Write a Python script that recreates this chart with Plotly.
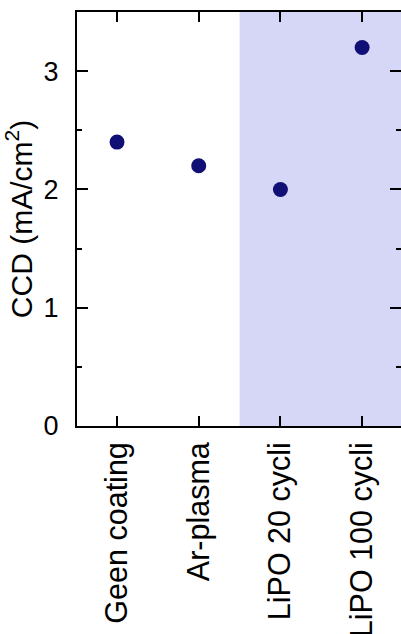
import plotly.graph_objects as go

categories = ["Geen coating", "Ar-plasma", "LiPO 20 cycli", "LiPO 100 cycli"]
ccd_values = [2.4, 2.2, 2.0, 3.2]
y_tick_vals = [0, 1, 2, 3]
y_tick_text = ["0", "1", "2", "3"]
shaded_from = 1.5  # between "Ar-plasma" and "LiPO 20 cycli"

FONT = "Liberation Sans, Arial, sans-serif"
x_idx = list(range(len(categories)))

fig = go.Figure()
fig.add_trace(go.Scatter(
    x=x_idx, y=ccd_values, mode="markers",
    marker=dict(size=15, color="#0f0f76"),
    showlegend=False, hoverinfo="y",
))
fig.add_trace(go.Scatter(
    x=x_idx, y=ccd_values, mode="markers", yaxis="y2",
    marker=dict(size=1, opacity=0), showlegend=False, hoverinfo="skip",
))

fig.add_shape(type="rect", xref="x", yref="y domain",
              x0=shaded_from, x1=10, y0=0, y1=1,
              fillcolor="#d6d6f7", line=dict(width=0), layer="below")

yr = [0, 3.5]
fig.update_layout(
    width=401, height=634,
    margin=dict(l=77, r=0, t=12, b=208),
    paper_bgcolor="white", plot_bgcolor="white",
    font=dict(family=FONT, color="black"),
    xaxis=dict(
        range=[-0.49, 3.476], tickmode="array", tickvals=x_idx, ticktext=categories,
        tickangle=-90, ticks="inside", ticklen=10, tickwidth=2, tickcolor="black",
        showline=True, linewidth=2, linecolor="black", mirror="ticks",
        showgrid=False, zeroline=False, tickfont=dict(size=30.5, family=FONT),
        ticklabelstandoff=2, automargin=False,
    ),
    yaxis=dict(
        range=yr, tickmode="array", tickvals=y_tick_vals, ticktext=y_tick_text,
        ticks="inside", ticklen=11, tickwidth=2, tickcolor="black",
        minor=dict(dtick=0.5, tick0=0, ticks="inside", ticklen=5, tickwidth=2, tickcolor="black", showgrid=False),
        showline=True, linewidth=2, linecolor="black", mirror=False,
        showgrid=False, zeroline=False, tickfont=dict(size=27, family=FONT),
        ticklabelstandoff=11, automargin=False,
        title=dict(text="CCD (mA/cm<sup>2</sup>)", font=dict(size=30, family=FONT), standoff=8),
    ),
    yaxis2=dict(
        range=yr, overlaying="y", side="right", tickmode="array", tickvals=y_tick_vals,
        ticks="inside", ticklen=11, tickwidth=2, tickcolor="black",
        minor=dict(dtick=0.5, tick0=0, ticks="inside", ticklen=5, tickwidth=2, tickcolor="black", showgrid=False),
        showline=False, showgrid=False, zeroline=False, showticklabels=False,
        automargin=False,
    ),
)

fig.write_html(
    "out.html",
    config={"displayModeBar": False},
    post_script="document.documentElement.style.margin='0';document.body.style.margin='0';"
                "document.documentElement.style.overflow='hidden';document.body.style.overflow='hidden';",
)
